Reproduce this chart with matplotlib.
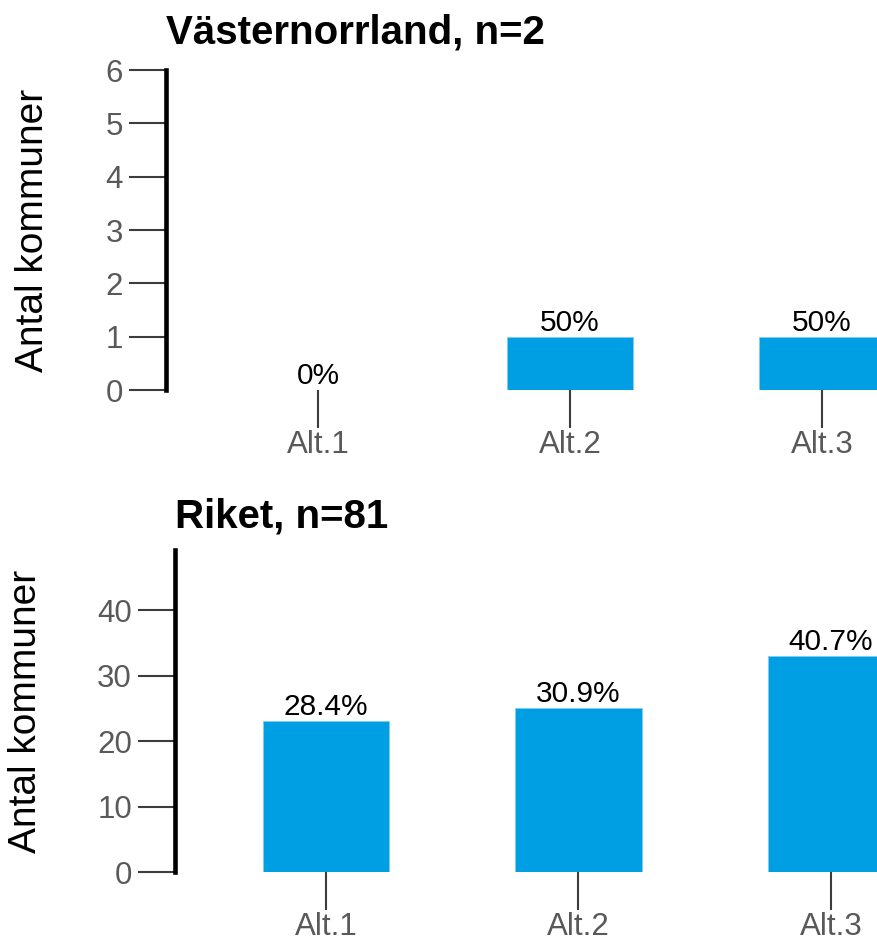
import matplotlib
matplotlib.use("Agg")
import matplotlib.pyplot as plt

plt.rcParams['font.family'] = ['Liberation Sans', 'DejaVu Sans']

categories = ["Alt.1", "Alt.2", "Alt.3"]

vn_title = "Västernorrland, n=2"
vn_counts = [0, 1, 1]
vn_labels = ["0%", "50%", "50%"]
vn_yticks = [0, 1, 2, 3, 4, 5, 6]

riket_title = "Riket, n=81"
riket_counts = [23, 25, 33]
riket_labels = ["28.4%", "30.9%", "40.7%"]
riket_yticks = [0, 10, 20, 30, 40]

ylabel = "Antal kommuner"
bar_color = '#009fe3'
tick_color = '#3c3c3c'
label_color = '#595959'

W, H = 877, 942
fig = plt.figure(figsize=(W / 100, H / 100), dpi=100)


def px_axes(left, top, right, bottom):
    # pixel box -> figure fraction
    return fig.add_axes([left / W, 1 - bottom / H, (right - left) / W, (bottom - top) / H])


def draw_panel(ax, title, counts, labels, yticks, ylim, xlim, ylabel_x, title_pad):
    x = list(range(1, len(categories) + 1))
    bars = ax.bar(x, counts, width=0.5, color=bar_color, edgecolor='#7fcff1', linewidth=0.6)
    ax.bar_label(bars, labels=labels, padding=0, fontsize=21.5, color='black')

    ax.set_xlim(*xlim)
    ax.set_ylim(*ylim)
    ax.set_xticks(x)
    ax.set_xticklabels(categories)
    ax.set_yticks(yticks)

    for side in ['top', 'right', 'bottom']:
        ax.spines[side].set_visible(False)
    ax.spines['left'].set_linewidth(3.3)
    ax.spines['left'].set_color('black')

    ax.tick_params(axis='both', direction='out', length=27, width=1.5,
                   color=tick_color, labelcolor=label_color, labelsize=22.5)
    ax.tick_params(axis='x', pad=2)
    ax.tick_params(axis='y', pad=4)

    ax.set_title(title, loc='left', fontsize=29, fontweight='bold', pad=title_pad)
    ax.set_ylabel(ylabel, fontsize=28, color='black')
    ax.yaxis.set_label_coords(ylabel_x, 0.5)
    ax.set_facecolor('none')


ax1 = px_axes(166, 70, 877, 390)
draw_panel(ax1, vn_title, vn_counts, vn_labels, vn_yticks, (0, 6), (0.397, 3.218), -0.162, 19)

ax2 = px_axes(175, 550, 877, 872)
draw_panel(ax2, riket_title, riket_counts, riket_labels, riket_yticks, (0, 49.2), (0.401, 3.183), -0.187, 16)

fig.savefig("out.png", dpi=100)
